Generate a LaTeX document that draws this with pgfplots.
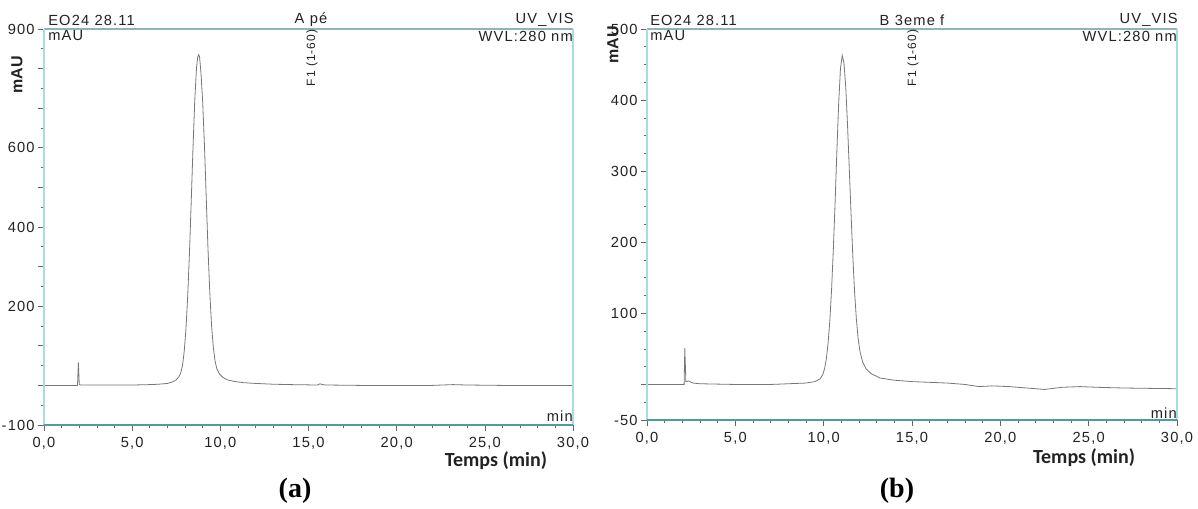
\documentclass[border=0pt]{standalone}
\usepackage{pgfplots}
\pgfplotsset{compat=1.18}
\usepackage{fontspec}
\setmainfont[LetterSpace=8]{Liberation Sans}
\newfontfamily\plainsans{Liberation Sans}
\newfontfamily\calibri{Carlito}
\newfontfamily\timesf{Liberation Serif}
\definecolor{framecyan}{HTML}{A8DCE4}
\definecolor{frametop}{HTML}{8FB4B6}
\definecolor{framebot}{HTML}{4F9C9E}
\definecolor{trace}{HTML}{777777}
\definecolor{txt}{HTML}{222222}
\definecolor{tickc}{HTML}{666666}

\pgfplotsset{
  chromo/.style={
    scale only axis,
    axis line style={draw=none},
    xmin=0, xmax=30,
    xtick={0,5,...,30},
    xticklabels={{0,0},{5,0},{10,0},{15,0},{20,0},{25,0},{30,0}},
    minor xtick={0,1,...,30},
    tick align=outside,
    xtick pos=bottom, ytick pos=left,
    major tick length=4.5pt, minor tick length=2.5pt,
    tick style={tickc, line width=0.5pt},
    minor tick style={tickc, line width=0.5pt},
    tick label style={font=\fontsize{11}{12}\selectfont, text=txt},
    xticklabel style={yshift=-1pt},
    yticklabel style={xshift=1pt},
    clip=false,
  },
}

\begin{document}
\begin{tikzpicture}[x=0.75pt, y=-0.75pt]
\path[use as bounding box] (0,0) rectangle (1198,508);

% ---------- (a) ----------
\begin{axis}[chromo,
  at={(33pt,-318.75pt)}, anchor=south west,
  width=396.75pt, height=297pt,
  ymin=-100, ymax=900,
  ytick={-100,0,100,200,300,400,500,600,700,800,900},
  yticklabels={-100,{},{},200,{},400,{},600,{},{},900},
  minor ytick={-50,50,150,250,350,450,550,650,750,850},
]
\addplot[trace, line width=0.6pt] coordinates {
(0,0) (1.9,0) (1.95,58) (2.0,2) (2.1,1) (3,1) (4,1) (5,1) (6,2) (6.5,3)
(7.0,5) (7.3,9) (7.5,14) (7.65,22) (7.75,31) (7.85,49) (7.95,85) (8.05,142)
(8.15,226) (8.25,335) (8.35,466) (8.45,600) (8.55,720) (8.65,803) (8.72,830)
(8.77,835) (8.82,830) (8.9,790) (9.0,715) (9.1,605) (9.2,475) (9.3,345)
(9.4,237) (9.5,153) (9.6,97) (9.7,62) (9.8,42) (9.95,29) (10.15,20) (10.4,14)
(10.8,10) (11.3,7) (12,5) (13,3) (14,2) (15.5,1) (15.65,4) (15.8,2) (16,1)
(18,0) (20,0) (22,0) (23.2,2) (24,1) (26,0) (28,0) (30,0)
};
\draw[frametop, line width=0.8pt] (rel axis cs:0,1) -- (rel axis cs:1,1);
\draw[framecyan, line width=0.8pt] (rel axis cs:0,0) -- (rel axis cs:0,1);
\draw[framecyan, line width=0.8pt] (rel axis cs:1,0) -- (rel axis cs:1,1);
\draw[framebot, line width=0.8pt] (rel axis cs:0,0) -- (rel axis cs:1,0);
\end{axis}

% ---------- (b) ----------
\begin{axis}[chromo,
  at={(485.25pt,-315pt)}, anchor=south west,
  width=397.5pt, height=293.25pt,
  ymin=-50, ymax=500,
  ytick={-50,0,100,200,300,400,500},
  yticklabels={-50,{},100,200,300,400,500},
  minor ytick={-25,25,50,75,125,150,175,225,250,275,325,350,375,425,450,475},
]
\addplot[trace, line width=0.6pt] coordinates {
(0,0) (2.1,0) (2.14,51) (2.2,4) (2.35,5) (2.6,2) (3,1) (5,0) (7,0) (8,1)
(9,2) (9.5,4) (9.8,8) (9.95,14) (10.05,22) (10.15,36) (10.25,58) (10.35,90)
(10.45,135) (10.55,192) (10.65,258) (10.75,330) (10.85,396) (10.95,444)
(11.05,463) (11.15,452) (11.25,418) (11.35,365) (11.45,303) (11.55,240)
(11.65,180) (11.75,130) (11.85,92) (11.95,65) (12.05,47) (12.2,32) (12.4,22)
(12.7,15) (13.2,9) (14,6) (15,4) (16,3) (17,2) (18,0) (18.8,-3) (19.5,-2)
(20.5,-3) (21.5,-5) (22.5,-7) (23.5,-4) (24.5,-3) (25.5,-4) (27,-5) (30,-6)
};
\draw[frametop, line width=0.8pt] (rel axis cs:0,1) -- (rel axis cs:1,1);
\draw[framecyan, line width=0.8pt] (rel axis cs:0,0) -- (rel axis cs:0,1);
\draw[framecyan, line width=0.8pt] (rel axis cs:1,0) -- (rel axis cs:1,1);
\draw[framebot, line width=0.8pt] (rel axis cs:0,0) -- (rel axis cs:1,0);
\end{axis}

% ---------- texts ----------
\begin{scope}[every node/.style={text=txt, inner sep=0pt, font=\fontsize{11}{12}\selectfont}]
% (a)
\node[anchor=west] at (48,20) {EO24 28.11};
\node at (311,20) {A pé};
\node[anchor=east] at (574,20) {UV\_VIS};
\node[anchor=west] at (48,36) {mAU};
\node[anchor=east] at (573,36) {WVL:280 nm};
\node[anchor=east] at (573,416) {min};
\node[rotate=90, font=\fontsize{9}{10}\selectfont] at (312,58) {F1 (1-60)};
\node[rotate=90, font=\fontsize{12}{13}\plainsans\bfseries\selectfont] at (17,75) {mAU};
\node[font=\fontsize{15}{16}\calibri\bfseries\selectfont] at (496,461) {Temps (min)};
\node[font=\fontsize{21}{23}\timesf\bfseries\selectfont, text=black] at (295,491) {(a)};
% (b)
\node[anchor=west] at (650,20) {EO24 28.11};
\node at (912,20) {B 3eme f};
\node[anchor=east] at (1178,20) {UV\_VIS};
\node[anchor=west] at (650,36) {mAU};
\node[anchor=east] at (1177,36) {WVL:280 nm};
\node[anchor=east] at (1177,413) {min};
\node[rotate=90, font=\fontsize{9}{10}\selectfont] at (913,58) {F1 (1-60)};
\node[rotate=90, font=\fontsize{12}{13}\plainsans\bfseries\selectfont] at (613,45) {mAU};
\node[font=\fontsize{15}{16}\calibri\bfseries\selectfont] at (1084,458) {Temps (min)};
\node[font=\fontsize{21}{23}\timesf\bfseries\selectfont, text=black] at (897,491) {(b)};
\end{scope}
\end{tikzpicture}
\end{document}
